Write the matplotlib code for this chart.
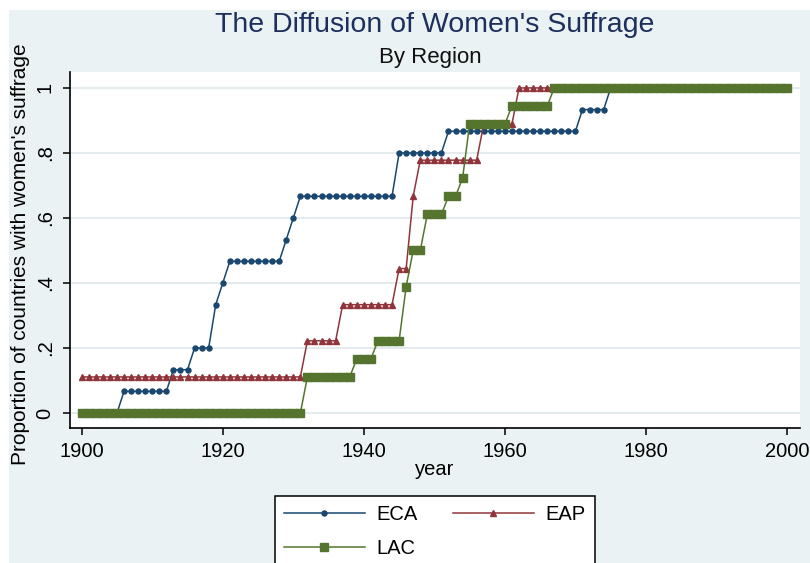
import matplotlib
matplotlib.use("Agg")
import matplotlib.pyplot as plt
from matplotlib.patches import Rectangle
import numpy as np

plt.rcParams['font.family'] = ['Liberation Sans', 'DejaVu Sans']

# years covered, one observation per year
years = np.arange(1900, 2001)

# share of countries with suffrage: step levels and how many years each lasts
eca_levels = [0, 1/15, 2/15, 3/15, 5/15, 6/15, 7/15, 8/15, 9/15, 10/15, 12/15, 13/15, 14/15, 1]
eca_runs = [6, 7, 3, 3, 1, 1, 8, 1, 1, 14, 7, 19, 4, 26]

eap_levels = [1/9, 2/9, 3/9, 4/9, 6/9, 7/9, 8/9, 1]
eap_runs = [32, 5, 8, 2, 1, 9, 5, 39]

lac_levels = [0, 2/18, 3/18, 4/18, 7/18, 9/18, 11/18, 12/18, 13/18, 16/18, 17/18, 1]
lac_runs = [32, 7, 3, 4, 1, 2, 3, 2, 1, 6, 6, 34]

eca = np.repeat(eca_levels, eca_runs)
eap = np.repeat(eap_levels, eap_runs)
lac = np.repeat(lac_levels, lac_runs)

yticks = [0, 0.2, 0.4, 0.6, 0.8, 1]
ytick_labels = ["0", ".2", ".4", ".6", ".8", "1"]
xticks = [1900, 1920, 1940, 1960, 1980, 2000]

navy = "#1a476f"
maroon = "#90353b"
green = "#55752f"
bg = "#eaf2f3"

W, H = 810, 563
fig = plt.figure(figsize=(W / 100, H / 100), dpi=100)
fig.patch.set_facecolor("white")
fig.patches.append(Rectangle((9 / W, 0), 1, 1 - 10 / H, transform=fig.transFigure,
                             facecolor=bg, edgecolor="none", zorder=-10))

ax = fig.add_axes([70 / W, 1 - 428 / H, 730 / W, 356 / H])
ax.set_facecolor("white")

l1, = ax.plot(years, eca, color=navy, lw=1.1, marker="o", ms=3.6, label="ECA")
l2, = ax.plot(years, eap, color=maroon, lw=1.1, marker="^", ms=5, label="EAP")
l3, = ax.plot(years, lac, color=green, lw=1.1, marker="s", ms=5.6, label="LAC")

ax.set_xlim(1898.34, 2001.84)
ax.set_ylim(-0.046, 1.049)
ax.set_xticks(xticks)
ax.set_yticks(yticks)
ax.set_yticklabels(ytick_labels)
ax.grid(axis="y", color="#e3ebee", lw=1.4)
ax.set_axisbelow(True)

for s in ["top", "right"]:
    ax.spines[s].set_visible(False)
for s in ["left", "bottom"]:
    ax.spines[s].set_linewidth(1.2)

ax.tick_params(direction="out", length=5, width=1.1, labelsize=14.5)
ax.tick_params(axis="x", pad=5)
ax.tick_params(axis="y", labelrotation=90, pad=6)
for t in ax.get_yticklabels():
    t.set_va("center")

ax.set_ylabel("Proportion of countries with women's suffrage", fontsize=15)
ax.yaxis.set_label_coords(-0.055, 0.489)
ax.set_xlabel("year", fontsize=14.5)
ax.xaxis.set_label_coords(0.5, -0.09)
ax.xaxis.label.set_va("top")

fig.text(435 / W, 1 - 31.7 / H, "The Diffusion of Women's Suffrage", fontsize=20.5,
         color="#1e2f5e", ha="center", va="baseline")
fig.text(430 / W, 1 - 63.3 / H, "By Region", fontsize=16, color="#111111",
         ha="center", va="baseline")

leg = fig.legend([l1, l3, l2], ["ECA", "LAC", "EAP"], ncol=2, loc="upper left",
                 bbox_to_anchor=(275 / W, 1 - 496 / H), bbox_transform=fig.transFigure,
                 borderaxespad=0, fontsize=14.5, handlelength=4.0, handletextpad=0.6,
                 columnspacing=1.75, labelspacing=0.75, borderpad=0.45, numpoints=1,
                 fancybox=False, framealpha=1)
leg.get_frame().set_edgecolor("black")
leg.get_frame().set_linewidth(1.1)

fig.savefig("out.png", dpi=100)
